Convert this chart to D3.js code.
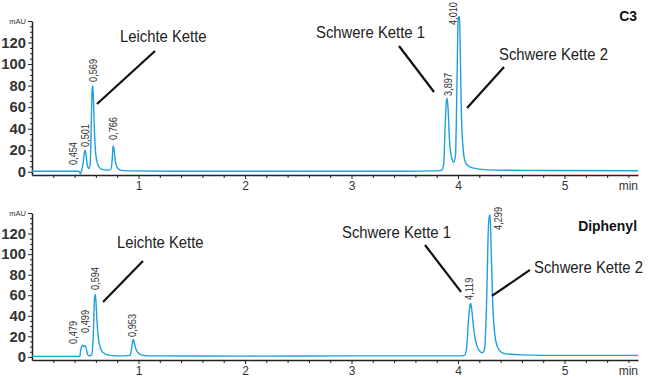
<!DOCTYPE html>
<html>
<head>
<meta charset="utf-8">
<script src="https://cdn.jsdelivr.net/npm/d3@7"></script>
<style>
  body { margin: 0; background: #fff; }
  svg { display: block; }
</style>
</head>
<body>
<svg id="chart" width="655" height="377"></svg>
<script>
// axis ticks
const timeTicks = [1, 2, 3, 4, 5];
const timeMinor = [0.2, 0.4, 0.6, 0.8, 1.2, 1.4, 1.6, 1.8, 2.2, 2.4, 2.6, 2.8, 3.2, 3.4, 3.6, 3.8,
  4.2, 4.4, 4.6, 4.8, 5.2, 5.4, 5.6];
const signalTicks = [0, 20, 40, 60, 80, 100, 120];
const signalMinor = [5, 10, 15, 25, 30, 35, 45, 50, 55, 65, 70, 75, 85, 90, 95, 105, 110, 115, 125, 130, 135];

// C3 trace (min, mAU)
const c3Time = [0, 0.3, 0.44, 0.455, 0.465, 0.48, 0.492, 0.499, 0.507, 0.52, 0.535, 0.547, 0.556, 0.565, 0.57,
  0.576, 0.586, 0.6, 0.62, 0.65, 0.7, 0.74, 0.752, 0.761, 0.765, 0.771, 0.784, 0.8, 0.83, 0.9, 1.5, 2.5, 3.5,
  3.8, 3.85, 3.866, 3.88, 3.893, 3.898, 3.906, 3.92, 3.94, 3.96, 3.976, 3.99, 4.0, 4.006, 4.014, 4.02, 4.03,
  4.045, 4.06, 4.08, 4.12, 4.2, 4.35, 4.8, 5.69];
const c3Signal = [0.5, 0.5, 0.5, -2, 1, 8, 18, 20, 16, 6, 3, 8, 42, 77, 80, 70, 38, 15, 6, 2.5, 1.5, 2, 10, 23, 24,
  20, 9, 4, 1.5, 0.8, 0.5, 0.5, 0.5, 0.8, 1.5, 8, 45, 67, 68, 60, 30, 13, 9, 15, 80, 138, 144, 144, 120, 60, 25,
  12, 7, 4, 2.5, 1.5, 1.2, 1];
const c3Peaks = [0.454, 0.501, 0.569, 0.766, 3.897, 4.010];

// Diphenyl trace
const diTime = [0, 0.44, 0.45, 0.456, 0.466, 0.478, 0.488, 0.499, 0.51, 0.52, 0.535, 0.56, 0.575, 0.586, 0.593,
  0.6, 0.61, 0.625, 0.645, 0.67, 0.71, 0.8, 0.92, 0.935, 0.947, 0.953, 0.96, 0.975, 0.995, 1.03, 1.1, 2, 3, 4.0,
  4.06, 4.08, 4.1, 4.114, 4.12, 4.13, 4.15, 4.18, 4.21, 4.23, 4.25, 4.27, 4.285, 4.295, 4.301, 4.31, 4.325,
  4.345, 4.37, 4.4, 4.45, 4.6, 5, 5.69];
const diSignal = [0.5, 0.5, 1, 6, 10, 11.5, 10, 11, 8, 3, 1, 2, 20, 55, 61, 55, 35, 17, 8, 4, 2, 1, 1.5, 8, 16, 17,
  14, 8, 4, 1.8, 1, 0.8, 1, 1, 1.5, 8, 38, 51, 52, 45, 25, 10, 5, 4, 8, 60, 125, 138, 138, 110, 55, 22, 10, 5, 3,
  2, 1.5, 1.5];
const diPeaks = [0.479, 0.499, 0.594, 0.953, 4.119, 4.299];

const chainLight = 'Leichte Kette';
const chainHeavy1 = 'Schwere Kette 1';
const chainHeavy2 = 'Schwere Kette 2';

const panels = [
  {
    title: 'C3', titleY: 21, top: 21, bottom: 175,
    time: c3Time, signal: c3Signal, peaks: c3Peaks,
    // label centre (min) and foot (mAU)
    labelAt: [[0.385, 6.3], [0.498, 23], [0.573, 83.4], [0.761, 29.5], [3.906, 70.4], [3.953, 136.3]],
    notes: [
      { text: chainLight, at: [0.826, 120.5], line: [[0.61, 62.9], [1.155, 112.1]] },
      { text: chainHeavy1, at: [2.667, 124.2], line: [[3.446, 116.8], [3.775, 74.1]] },
      { text: chainHeavy2, at: [4.385, 103.8], line: [[4.432, 97.3], [4.085, 59.2]] }
    ]
  },
  {
    title: 'Diphenyl', titleY: 231, top: 213, bottom: 360,
    time: diTime, signal: diSignal, peaks: diPeaks,
    labelAt: [[0.385, 12.6], [0.498, 23.3], [0.592, 65.1], [0.939, 19.4], [4.103, 55.4], [4.376, 123.5]],
    notes: [
      { text: chainLight, at: [0.798, 106], line: [[0.667, 53.4], [1.042, 93.3]] },
      { text: chainHeavy1, at: [2.911, 115.7], line: [[3.69, 108.9], [4.028, 63.2]] },
      { text: chainHeavy2, at: [4.714, 81.6], line: [[4.676, 84.6], [4.319, 59.3]] }
    ]
  }
];

const font = '"Liberation Sans", Arial, sans-serif';
const blue = '#1f9fdc';
const ink = '#333';

const svg = d3.select('#chart');
const x = d3.scaleLinear().domain([0, 5.69]).range([32, 638]);

panels.forEach(p => drawPanel(p));

function drawPanel(p) {
  const y = d3.scaleLinear().domain([-3, 140]).range([p.bottom, p.top]);
  const g = svg.append('g');

  // x axis
  const xAx = g.append('g').attr('transform', `translate(0,${p.bottom})`)
    .call(d3.axisBottom(x).tickValues(timeTicks).tickSize(4).tickSizeOuter(0).tickPadding(2)
      .tickFormat(d3.format('d')));
  g.append('g').attr('transform', `translate(0,${p.bottom})`)
    .call(d3.axisBottom(x).tickValues(timeMinor).tickSize(3).tickFormat(''))
    .select('.domain').remove();
  xAx.selectAll('text').attr('font-family', font).attr('font-size', 12).attr('fill', ink);
  g.append('text').attr('x', x.range()[1]).attr('y', p.bottom + 15)
    .attr('text-anchor', 'end').attr('font-family', font)
    .attr('font-size', 12).attr('fill', ink).text('min');

  // y axis
  const yAx = g.append('g').attr('transform', 'translate(32,0)')
    .call(d3.axisLeft(y).tickValues(signalTicks).tickSize(4).tickSizeOuter(0).tickPadding(2));
  yAx.selectAll('text').attr('font-family', font).attr('font-size', 14.8)
    .attr('font-weight', 'bold').attr('fill', ink);
  g.append('g').attr('transform', 'translate(32,0)')
    .call(d3.axisLeft(y).tickValues(signalMinor).tickSize(2).tickFormat(''))
    .select('.domain').remove();
  const unit = g.append('g').attr('transform', 'translate(32,0)')
    .call(d3.axisLeft(y).tickValues([140]).tickSize(4).tickPadding(2).tickFormat(() => 'mAU'));
  unit.select('.domain').remove();
  unit.selectAll('text').attr('font-family', font).attr('font-size', 7.5).attr('fill', ink);

  g.selectAll('.domain').attr('stroke', '#222').attr('stroke-width', 1.5);
  g.selectAll('.tick line').attr('stroke', '#222');

  // trace
  const lineMkr = d3.line().curve(d3.curveMonotoneX)
    .x(d => x(d[0])).y(d => y(d[1]));
  g.append('path').attr('fill', 'none').attr('stroke', blue).attr('stroke-width', 1.4)
    .attr('d', lineMkr(d3.zip(p.time, p.signal)));

  // peak retention time labels (narrowed like the condensed original)
  g.selectAll('.peak').data(p.peaks).enter()
    .append('text')
    .attr('transform', (d, i) =>
      `translate(${x(p.labelAt[i][0])},${y(p.labelAt[i][1])}) rotate(-90) scale(0.85,1)`)
    .attr('dominant-baseline', 'central')
    .attr('font-family', font).attr('font-size', 10.8).attr('fill', '#333')
    .text(d => d3.format('.3f')(d).replace('.', ','));

  // annotations with leader lines
  p.notes.forEach(n => {
    g.append('line')
      .attr('x1', x(n.line[0][0])).attr('y1', y(n.line[0][1]))
      .attr('x2', x(n.line[1][0])).attr('y2', y(n.line[1][1]))
      .attr('stroke', '#111').attr('stroke-width', 2.2);
    g.append('text')
      .attr('transform', `translate(${x(n.at[0])},${y(n.at[1])}) scale(0.9,1)`)
      .attr('font-family', font).attr('font-size', 16.5)
      .attr('fill', '#222').text(n.text);
  });

  // panel title
  g.append('text').attr('transform', `translate(637,${p.titleY}) scale(0.9,1)`)
    .attr('text-anchor', 'end').attr('font-family', font).attr('font-size', 15.5)
    .attr('font-weight', 'bold').attr('fill', '#111').text(p.title);
}
</script>
</body>
</html>
